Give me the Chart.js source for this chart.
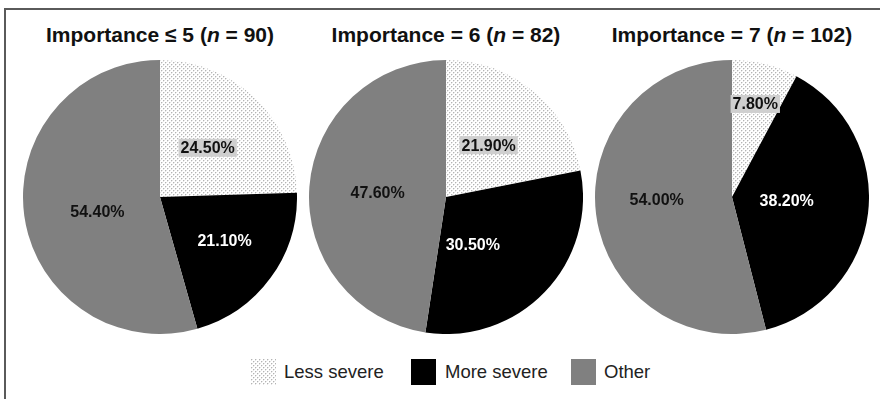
<!DOCTYPE html>
<html>
<head>
<meta charset="utf-8">
<script src="https://cdn.jsdelivr.net/npm/chart.js@4/dist/chart.umd.min.js"></script>
<style>
  html, body { margin: 0; padding: 0; background: #fff; }
  body { width: 880px; height: 399px; position: relative; overflow: hidden;
         font-family: "Liberation Sans", Arial, sans-serif; }
  .frame { position: absolute; left: 4px; top: 8px; width: 900px; height: 500px;
           border-left: 2px solid #5a5a5a; border-top: 2px solid #5a5a5a; }
  .title { position: absolute; top: 23px; width: 320px; margin-left: -160px; text-align: center;
           font-weight: bold; font-size: 21px; line-height: 23px; color: #111; white-space: nowrap; }
  .pie { position: absolute; width: 274px; height: 274px; }
  .legend { position: absolute; top: 359px; left: 0; height: 26px; font-size: 18.5px; color: #222; }
  .item { position: absolute; top: 0; height: 26px; white-space: nowrap; }
  .swatch { position: absolute; left: 0; top: 0; width: 25px; height: 26px; }
  .item span.txt { position: absolute; top: 2px; line-height: 22px; }
</style>
</head>
<body>
<div class="frame"></div>
<div id="titles"></div>
<div id="pies"></div>
<div class="legend" id="legend"></div>
<script>
// Response categories (slice order, clockwise from 12 o'clock)
const categories = ['Less severe', 'More severe', 'Other'];
// Importance groups and their sample sizes
const groupLabels = ['Importance \u2264 5', 'Importance = 6', 'Importance = 7'];
const groupN = [90, 82, 102];
// Percentages per category, one entry per group
const lessSevere = [24.5, 21.9, 7.8];
const moreSevere = [21.1, 30.5, 38.2];
const other = [54.4, 47.6, 54.0];

// Dotted fill used for the "Less severe" slices
function makeDots() {
  const c = document.createElement('canvas');
  c.width = 4; c.height = 4;
  const g = c.getContext('2d');
  g.fillStyle = '#ffffff'; g.fillRect(0, 0, 4, 4);
  g.fillStyle = '#b4b4b4';
  g.fillRect(0, 0, 1, 1); g.fillRect(2, 2, 1, 1);
  g.fillStyle = '#e4e4e4';
  g.fillRect(1, 0, 1, 1); g.fillRect(0, 1, 1, 1); g.fillRect(3, 2, 1, 1); g.fillRect(2, 3, 1, 1);
  return c;
}
const dotTile = makeDots();
const dotPattern = document.createElement('canvas').getContext('2d').createPattern(dotTile, 'repeat');

const sliceColors = [dotPattern, '#000000', '#808080'];
const labelStyles = [
  { color: '#111', box: '#cfcfcf' },
  { color: '#fff', box: null },
  { color: '#111', box: null }
];
// Placement of each value label: share of the radius and a turn (degrees) away from the slice middle
const labelRadius = [
  [0.50, 0.57, 0.47],
  [0.49, 0.40, 0.50],
  [0.70, 0.40, 0.55]
];
const labelTurn = [
  [0, -2, -5.5],
  [0, 17, -1],
  [0, -3.6, 5]
];
const pieLeft = [23, 309, 595];
const pieTop = 60;

// Draws the percentage inside every slice
const sliceLabels = {
  id: 'sliceLabels',
  afterDatasetsDraw(chart, args, opts) {
    const ctx = chart.ctx;
    const meta = chart.getDatasetMeta(0);
    const data = chart.data.datasets[0].data;
    ctx.save();
    ctx.font = 'bold 16px "Liberation Sans", Arial, sans-serif';
    ctx.textAlign = 'center';
    ctx.textBaseline = 'middle';
    meta.data.forEach((arc, i) => {
      const mid = (arc.startAngle + arc.endAngle) / 2 + opts.turn[i] * Math.PI / 180;
      const r = arc.outerRadius * opts.radius[i];
      const x = arc.x + Math.cos(mid) * r;
      const y = arc.y + Math.sin(mid) * r;
      const text = data[i].toFixed(2) + '%';
      const st = labelStyles[i];
      if (st.box) {
        const w = ctx.measureText(text).width + 4;
        ctx.fillStyle = st.box;
        ctx.fillRect(x - w / 2, y - 9, w, 18);
      }
      ctx.fillStyle = st.color;
      ctx.fillText(text, x, y + 1);
    });
    ctx.restore();
  }
};

const titles = document.getElementById('titles');
const pies = document.getElementById('pies');
groupLabels.forEach((label, g) => {
  const t = document.createElement('div');
  t.className = 'title';
  t.style.left = (pieLeft[g] + 137) + 'px';
  t.innerHTML = label + ' (<i>n</i> = ' + groupN[g] + ')';
  titles.appendChild(t);

  const wrap = document.createElement('div');
  wrap.className = 'pie';
  wrap.style.left = pieLeft[g] + 'px';
  wrap.style.top = pieTop + 'px';
  const cv = document.createElement('canvas');
  cv.width = 274; cv.height = 274;
  wrap.appendChild(cv);
  pies.appendChild(wrap);

  new Chart(cv, {
    type: 'pie',
    data: {
      labels: categories,
      datasets: [{
        data: [lessSevere[g], moreSevere[g], other[g]],
        backgroundColor: sliceColors,
        borderWidth: 0
      }]
    },
    options: {
      responsive: false,
      animation: false,
      layout: { padding: 0 },
      plugins: {
        legend: { display: false },
        tooltip: { enabled: false },
        sliceLabels: { radius: labelRadius[g], turn: labelTurn[g] }
      }
    },
    plugins: [sliceLabels]
  });
});

// Legend row under the pies
const legendPos = [[251, 284], [411, 445], [571, 604]];
const legend = document.getElementById('legend');
categories.forEach((name, i) => {
  const item = document.createElement('div');
  item.className = 'item';
  item.style.left = legendPos[i][0] + 'px';
  const sw = document.createElement('div');
  sw.className = 'swatch';
  if (i === 0) sw.style.backgroundImage = 'url(' + dotTile.toDataURL() + ')';
  else sw.style.background = sliceColors[i];
  const tx = document.createElement('span');
  tx.className = 'txt';
  tx.style.left = (legendPos[i][1] - legendPos[i][0]) + 'px';
  tx.textContent = name;
  item.appendChild(sw);
  item.appendChild(tx);
  legend.appendChild(item);
});
</script>
</body>
</html>
